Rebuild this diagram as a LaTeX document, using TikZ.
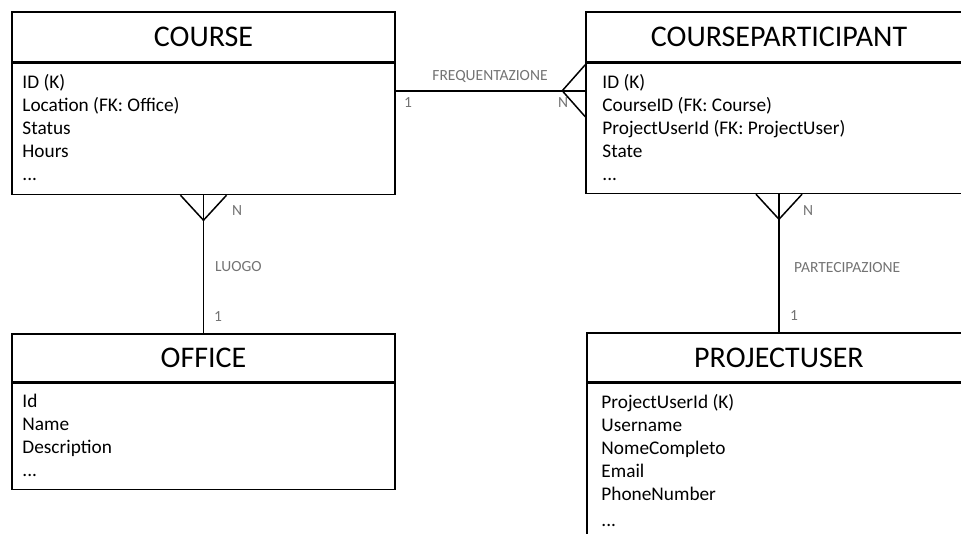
\documentclass[tikz,border=0pt]{standalone}
\usepackage{fontspec}
\setmainfont{Carlito}
\usetikzlibrary{positioning}

\newcommand{\titlesize}{\fontsize{30}{36}\selectfont}
\newcommand{\attrsize}{\fontsize{19.3}{23}\selectfont}
\newcommand{\lblsize}{\fontsize{15.5}{17}\selectfont}

\tikzset{
  entity/.style={draw, line width=1.5pt, minimum width=383pt, minimum height=50pt, inner sep=0pt, font=\titlesize},
  attrbox/.style={draw, line width=1.5pt, minimum width=383pt, inner sep=0pt, below=0pt of #1},
  attrlist/.style={anchor=north west, align=left, inner sep=0pt, font=\attrsize},
  rel/.style={line width=1.5pt},
  lbl/.style={font=\lblsize, text=black!55, inner sep=0pt}
}

\begin{document}
\begin{tikzpicture}[x=1pt, y=-1pt]
  \useasboundingbox (0,0) rectangle (961,533);
  \clip (0,0) rectangle (961,533);
  % entities
  \node[entity] (course) at (203.5,37) {COURSE};
  \node[attrbox=course, minimum height=131pt] (coursebody) {};
  \node[entity, minimum width=386pt] (cp) at (779,37) {COURSEPARTICIPANT};
  \node[attrbox=cp, minimum width=386pt, minimum height=130pt] (cpbody) {};
  \node[entity, minimum height=48pt] (office) at (203.5,358) {OFFICE};
  \node[attrbox=office, minimum height=106pt] (officebody) {};
  \node[entity, minimum width=384pt, minimum height=49pt] (puser) at (779,357.5) {PROJECTUSER};
  \node[attrbox=puser, minimum width=384pt, minimum height=180pt] (puserbody) {};
  % attributes
  \node[attrlist] (courseattr) at ([xshift=11pt, yshift=-11.5pt]coursebody.north west)
    {ID (K)\\Location (FK: Office)\\Status\\Hours\\...};
  \node[attrlist] (cpattr) at ([xshift=17pt, yshift=-11pt]cpbody.north west)
    {ID (K)\\CourseID (FK: Course)\\ProjectUserId (FK: ProjectUser)\\State\\...};
  \node[attrlist] (officeattr) at ([xshift=11pt, yshift=-11.5pt]officebody.north west)
    {Id\\Name\\Description\\...};
  \node[attrlist] (puserattr) at ([xshift=15pt, yshift=-11.5pt]puserbody.north west)
    {ProjectUserId (K)\\Username\\NomeCompleto\\Email\\PhoneNumber\\[3pt]...};
  % frequentazione
  \draw[rel] ([yshift=-28pt]coursebody.north east) -- ([yshift=-28pt]cpbody.north west);
  \draw[rel] ([yshift=-2pt]cpbody.north west) -- ([xshift=-23pt, yshift=-28pt]cpbody.north west)
    -- ([yshift=-54pt]cpbody.north west);
  \node[lbl] (freq) at (490,76) {FREQUENTAZIONE};
  \node[lbl] (freqone) at (408,103) {1};
  \node[lbl] (freqn) at (563,103) {N};
  % luogo
  \draw[rel] (coursebody.south) -- (office.north);
  \draw[rel] ([xshift=-23pt]coursebody.south) -- ([yshift=-25pt]coursebody.south)
    -- ([xshift=23pt]coursebody.south);
  \node[lbl] (luogon) at (237,211) {N};
  \node[lbl, anchor=west] (luogo) at (215,267) {LUOGO};
  \node[lbl] (luogoone) at (218,317) {1};
  % partecipazione
  \draw[rel] (cpbody.south) -- (puser.north);
  \draw[rel] ([xshift=-23pt]cpbody.south) -- ([yshift=-25pt]cpbody.south)
    -- ([xshift=23pt]cpbody.south);
  \node[lbl] (partn) at (808,211) {N};
  \node[lbl, anchor=west] (part) at (794,268) {PARTECIPAZIONE};
  \node[lbl] (partone) at (794,316) {1};
\end{tikzpicture}
\end{document}
